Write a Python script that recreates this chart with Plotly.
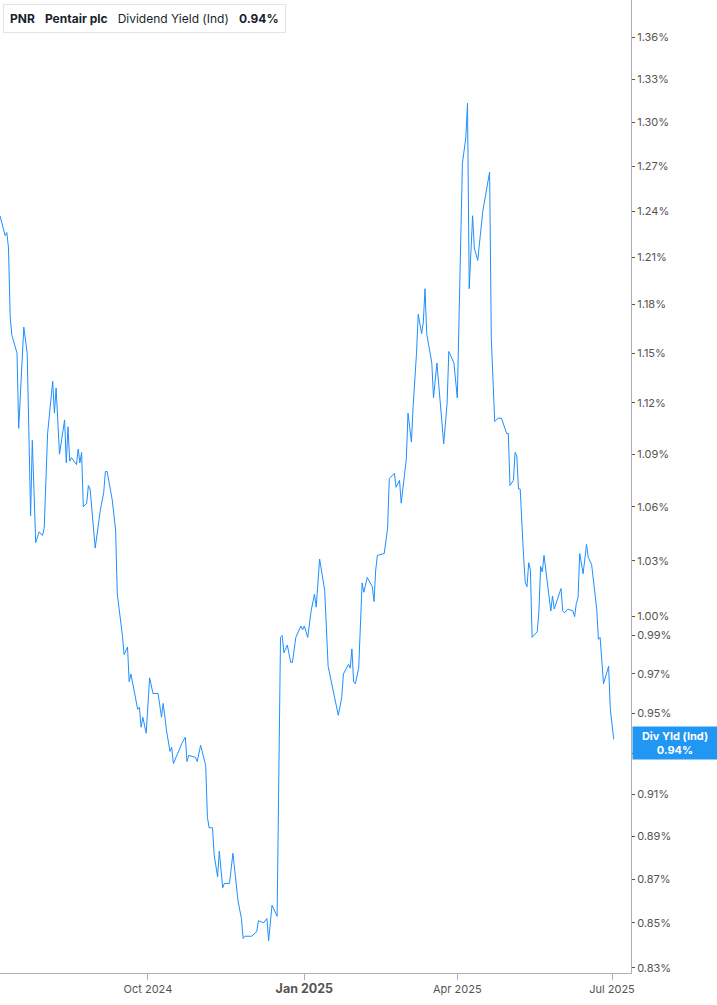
import math
import plotly.graph_objects as go

# PNR dividend yield (indicated), %
dates = [
    "2024-07-06", "2024-07-09", "2024-07-10", "2024-07-11", "2024-07-12", "2024-07-13",
    "2024-07-16", "2024-07-17", "2024-07-20", "2024-07-22", "2024-07-24", "2024-07-25",
    "2024-07-27", "2024-07-29", "2024-07-31", "2024-08-01", "2024-08-03", "2024-08-06",
    "2024-08-07", "2024-08-08", "2024-08-10", "2024-08-13", "2024-08-14", "2024-08-15",
    "2024-08-16", "2024-08-17", "2024-08-20", "2024-08-21", "2024-08-22", "2024-08-23",
    "2024-08-24", "2024-08-26", "2024-08-27", "2024-08-28", "2024-08-31", "2024-09-03",
    "2024-09-05", "2024-09-06", "2024-09-07", "2024-09-10", "2024-09-12", "2024-09-13",
    "2024-09-16", "2024-09-17", "2024-09-19", "2024-09-20", "2024-09-21", "2024-09-23",
    "2024-09-25", "2024-09-26", "2024-09-27", "2024-09-28", "2024-09-30", "2024-10-02",
    "2024-10-04", "2024-10-07", "2024-10-09", "2024-10-10", "2024-10-12", "2024-10-14",
    "2024-10-15", "2024-10-16", "2024-10-21", "2024-10-23", "2024-10-24", "2024-10-25",
    "2024-10-29", "2024-10-30", "2024-11-01", "2024-11-04", "2024-11-05", "2024-11-06",
    "2024-11-08", "2024-11-09", "2024-11-11", "2024-11-12", "2024-11-14", "2024-11-15",
    "2024-11-18", "2024-11-20", "2024-11-22", "2024-11-23", "2024-11-25", "2024-11-26",
    "2024-11-27", "2024-12-01", "2024-12-04", "2024-12-05", "2024-12-08", "2024-12-10",
    "2024-12-11", "2024-12-13", "2024-12-16", "2024-12-18", "2024-12-19", "2024-12-20",
    "2024-12-22", "2024-12-24", "2024-12-25", "2024-12-27", "2024-12-30", "2024-12-31",
    "2025-01-01", "2025-01-03", "2025-01-05", "2025-01-07", "2025-01-08", "2025-01-10",
    "2025-01-13", "2025-01-15", "2025-01-21", "2025-01-23", "2025-01-24", "2025-01-27",
    "2025-01-28", "2025-01-29", "2025-01-30", "2025-01-31", "2025-02-02", "2025-02-04",
    "2025-02-05", "2025-02-07", "2025-02-10", "2025-02-11", "2025-02-12", "2025-02-13",
    "2025-02-17", "2025-02-19", "2025-02-20", "2025-02-23", "2025-02-24", "2025-02-26",
    "2025-02-27", "2025-03-02", "2025-03-03", "2025-03-05", "2025-03-06", "2025-03-08",
    "2025-03-09", "2025-03-11", "2025-03-12", "2025-03-13", "2025-03-14", "2025-03-17",
    "2025-03-18", "2025-03-20", "2025-03-24", "2025-03-26", "2025-03-27", "2025-03-30",
    "2025-04-01", "2025-04-04", "2025-04-06", "2025-04-07", "2025-04-08", "2025-04-10",
    "2025-04-11", "2025-04-13", "2025-04-16", "2025-04-20", "2025-04-21", "2025-04-23",
    "2025-04-25", "2025-04-27", "2025-04-30", "2025-05-01", "2025-05-02", "2025-05-04",
    "2025-05-05", "2025-05-06", "2025-05-07", "2025-05-08", "2025-05-10", "2025-05-11",
    "2025-05-12", "2025-05-13", "2025-05-14", "2025-05-15", "2025-05-18", "2025-05-19",
    "2025-05-20", "2025-05-21", "2025-05-22", "2025-05-24", "2025-05-26", "2025-05-27",
    "2025-05-28", "2025-06-01", "2025-06-02", "2025-06-03", "2025-06-05", "2025-06-08",
    "2025-06-09", "2025-06-10", "2025-06-11", "2025-06-12", "2025-06-14", "2025-06-16",
    "2025-06-17", "2025-06-19", "2025-06-22", "2025-06-23", "2025-06-24", "2025-06-26",
    "2025-06-29", "2025-06-30", "2025-07-02",
]
div_yield = [
    1.237, 1.224, 1.226, 1.216, 1.172, 1.161,
    1.150, 1.105, 1.166, 1.150, 1.055, 1.098,
    1.040, 1.046, 1.044, 1.048, 1.102, 1.133,
    1.114, 1.129, 1.090, 1.110, 1.085, 1.106,
    1.086, 1.088, 1.084, 1.093, 1.085, 1.091,
    1.060, 1.062, 1.072, 1.070, 1.037, 1.058,
    1.068, 1.080, 1.080, 1.064, 1.047, 1.012,
    0.990, 0.980, 0.984, 0.966, 0.970, 0.960,
    0.952, 0.953, 0.943, 0.948, 0.940, 0.968,
    0.960, 0.960, 0.948, 0.955, 0.941, 0.931,
    0.933, 0.925, 0.935, 0.938, 0.926, 0.929,
    0.928, 0.926, 0.934, 0.924, 0.899, 0.894,
    0.894, 0.881, 0.871, 0.883, 0.866, 0.868,
    0.868, 0.882, 0.867, 0.860, 0.852, 0.843,
    0.844, 0.844, 0.846, 0.851, 0.850, 0.852,
    0.842, 0.858, 0.853, 0.989, 0.990, 0.981,
    0.985, 0.976, 0.976, 0.989, 0.995, 0.993,
    0.995, 0.989, 1.003, 1.012, 1.005, 1.031,
    1.014, 0.974, 0.949, 0.958, 0.970, 0.975,
    0.973, 0.983, 0.966, 0.965, 0.973, 1.018,
    1.013, 1.021, 1.016, 1.008, 1.025, 1.033,
    1.034, 1.048, 1.076, 1.079, 1.071, 1.075,
    1.062, 1.087, 1.114, 1.097, 1.118, 1.150,
    1.174, 1.162, 1.169, 1.190, 1.162, 1.144,
    1.123, 1.144, 1.096, 1.120, 1.151, 1.144,
    1.123, 1.272, 1.289, 1.313, 1.190, 1.237,
    1.216, 1.208, 1.240, 1.266, 1.159, 1.109,
    1.111, 1.111, 1.102, 1.102, 1.072, 1.075,
    1.091, 1.089, 1.070, 1.070, 1.032, 1.018,
    1.016, 1.029, 1.025, 0.989, 0.992, 1.003,
    1.027, 1.024, 1.033, 1.019, 1.003, 1.011,
    1.004, 1.015, 1.003, 1.002, 1.004, 1.003,
    1.000, 1.007, 1.010, 1.034, 1.023, 1.039,
    1.032, 1.028, 1.004, 0.988, 0.989, 0.965,
    0.974, 0.952, 0.937,
]

y_ticks = [0.83, 0.85, 0.87, 0.89, 0.91, 0.93, 0.95, 0.97, 0.99, 1.00,
           1.03, 1.06, 1.09, 1.12, 1.15, 1.18, 1.21, 1.24, 1.27, 1.30, 1.33, 1.36]
x_ticks = ["2024-10-01", "2025-01-01", "2025-04-01", "2025-07-01"]
x_tick_labels = ["Oct 2024", "<b><span style='font-size:12.5px'>Jan 2025</span></b>",
                 "Apr 2025", "Jul 2025"]

current = 0.94
blue = "#1e8fff"
FONT = "Inter"

fig = go.Figure()
fig.add_trace(go.Scatter(x=dates, y=div_yield, mode="lines",
                         line=dict(color=blue, width=1), hoverinfo="skip"))

fig.update_layout(
    width=717, height=1005,
    margin=dict(l=0, r=86, t=0, b=32),
    paper_bgcolor="white", plot_bgcolor="white",
    showlegend=False,
    font=dict(family=FONT, color="#555555", size=11),
    xaxis=dict(
        range=["2024-07-06", "2025-07-12 04:00"],
        tickvals=x_ticks, ticktext=x_tick_labels,
        showgrid=False, zeroline=False,
        showline=True, linecolor="#b0b0b0", linewidth=1,
        ticks="outside", ticklen=6, tickcolor="#b0b0b0",
        tickfont=dict(size=11, color="#555555"),
    ),
    yaxis=dict(
        type="log", side="right",
        range=[math.log10(0.8277), math.log10(1.387)],
        tickvals=y_ticks, ticktext=[f"{v:.2f}%" for v in y_ticks],
        showgrid=False, zeroline=False,
        showline=True, linecolor="#b0b0b0", linewidth=1,
        ticks="outside", ticklen=3, tickcolor="#555555",
        tickfont=dict(size=11, color="#555555"),
    ),
)

# current value label on the right axis
fig.add_annotation(
    xref="paper", x=1, xanchor="left", xshift=1,
    yref="y", y=math.log10(0.935), yanchor="middle",
    text=f"<b>Div Yld (Ind)<br>{current:.2f}%</b>",
    showarrow=False, align="center",
    bgcolor="#2196f3", font=dict(color="white", size=11, family=FONT),
    width=80, borderpad=2,
)

# header box
fig.add_annotation(
    xref="paper", x=0, xanchor="left", xshift=3,
    yref="paper", y=1, yanchor="top", yshift=-4,
    text=(f"<b>PNR</b>   <b>Pentair plc</b>   Dividend Yield (Ind)   <b>{current:.2f}%</b>"),
    showarrow=False, align="left",
    bgcolor="white", bordercolor="#e4e4e4", borderwidth=1, borderpad=6,
    font=dict(color="#1b1f2e", size=12, family=FONT),
)
fig.add_shape(
    type="rect", xref="paper", yref="paper",
    xsizemode="pixel", ysizemode="pixel", xanchor=0, yanchor=1,
    x0=3, x1=6, y0=-4, y1=-31,
    fillcolor=blue, line=dict(width=0),
)

# drop the default page margin so the figure sits at the window's corner
fig.write_html("out.html", config={"displayModeBar": False},
               post_script="document.body.style.margin='0';")
